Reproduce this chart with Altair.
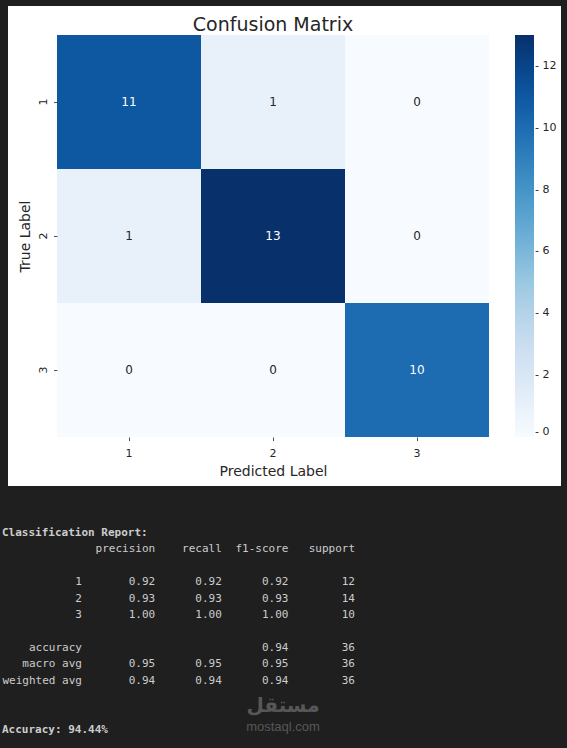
import altair as alt
import numpy as np
import pandas as pd

# ---- confusion matrix -------------------------------------------------------
class_labels = ["1", "2", "3"]
confusion = [
    [11, 1, 0],
    [1, 13, 0],
    [0, 0, 10],
]

# ---- classification report ---------------------------------------------------
report_classes = ["1", "2", "3"]
precision = [0.92, 0.93, 1.00]
recall = [0.92, 0.93, 1.00]
f1_score = [0.92, 0.93, 1.00]
support = [12, 14, 10]

accuracy_f1 = 0.94
accuracy_support = 36
macro_avg = [0.95, 0.95, 0.95, 36]
weighted_avg = [0.94, 0.94, 0.94, 36]
accuracy_pct = 94.44

colorbar_ticks = [0, 2, 4, 6, 8, 10, 12]
blues = ["#f7fbff", "#deebf7", "#c6dbef", "#9ecae1", "#6baed6",
         "#4292c6", "#2171b5", "#08519c", "#08306b"]

FONT = "DejaVu Sans"
MONO = "DejaVu Sans Mono"
INK = "#262626"
CONSOLE = "#cccccc"

W, H = 432, 402          # heatmap area
OX, OY = 57, 35          # heatmap origin on the page

cells = pd.DataFrame(
    [{"True Label": t, "Predicted Label": p, "count": confusion[i][j]}
     for i, t in enumerate(class_labels)
     for j, p in enumerate(class_labels)]
)

vmax = max(max(r) for r in confusion)
color_scale = alt.Scale(domain=list(np.linspace(0, vmax, len(blues))),
                        range=blues, interpolate="rgb")

# white figure panel behind the heatmap
panel = alt.Chart(alt.Data(values=[{}])).mark_rect(color="white").encode(
    x=alt.value(8 - OX), x2=alt.value(561 - OX),
    y=alt.value(6 - OY), y2=alt.value(486 - OY),
)

heat = alt.Chart(cells).mark_rect().encode(
    x=alt.X("Predicted Label:N", sort=class_labels,
            scale=alt.Scale(paddingInner=0, paddingOuter=0),
            axis=alt.Axis(orient="bottom", labelAngle=0, domain=False, grid=False,
                          tickSize=3.5, tickWidth=0.8, tickColor=INK,
                          labelFont=FONT, labelFontSize=11, labelColor=INK,
                          labelPadding=7,
                          title="Predicted Label", titleFont=FONT, titleFontSize=14,
                          titleFontWeight="normal", titleColor=INK,
                          titleY=38, titleBaseline="alphabetic")),
    y=alt.Y("True Label:N", sort=class_labels,
            scale=alt.Scale(paddingInner=0, paddingOuter=0),
            axis=alt.Axis(orient="left", labelAngle=270, domain=False, grid=False,
                          tickSize=3.5, tickWidth=0.8, tickColor=INK,
                          labelFont=FONT, labelFontSize=11, labelColor=INK,
                          labelAlign="center", labelBaseline="bottom", labelPadding=5,
                          title="True Label", titleFont=FONT, titleFontSize=14,
                          titleFontWeight="normal", titleColor=INK,
                          titleX=-28, titleBaseline="alphabetic")),
    color=alt.Color("count:Q", scale=color_scale,
                    legend=alt.Legend(title=None, orient="none",
                                      legendX=515 - OX, legendY=0, padding=0,
                                      direction="vertical", gradientLength=H,
                                      gradientThickness=19, gradientStrokeWidth=0,
                                      values=colorbar_ticks, labelOverlap=False,
                                      labelExpr="'- ' + datum.label",
                                      labelFont=FONT, labelFontSize=11,
                                      labelColor=INK, labelOffset=1,
                                      labelBaseline="middle")),
)

annot = alt.Chart(cells).mark_text(font=FONT, fontSize=12).encode(
    x=alt.X("Predicted Label:N", sort=class_labels,
            scale=alt.Scale(paddingInner=0, paddingOuter=0), axis=None),
    y=alt.Y("True Label:N", sort=class_labels,
            scale=alt.Scale(paddingInner=0, paddingOuter=0), axis=None),
    text="count:Q",
    color=alt.condition(alt.datum["count"] > vmax / 2,
                        alt.value("white"), alt.value(INK)),
)

title = alt.Chart(alt.Data(values=[{}])).mark_text(
    text="Confusion Matrix", font=FONT, fontSize=19, color=INK,
    align="center", baseline="alphabetic",
).encode(x=alt.value(W / 2), y=alt.value(-4))

# ---- report text, laid out on a character grid -----------------------------
# sklearn layout: 12-char row names, then four 9-char columns separated by a blank
col_end = [23, 33, 43, 53]
rows = []
for name, end in zip(["precision", "recall", "f1-score", "support"], col_end):
    rows.append({"line": 1, "pos": end, "text": name})
for k, cls in enumerate(report_classes):
    line = 3 + k
    rows.append({"line": line, "pos": 12, "text": cls})
    vals = [f"{precision[k]:.2f}", f"{recall[k]:.2f}", f"{f1_score[k]:.2f}", f"{support[k]}"]
    for v, end in zip(vals, col_end):
        rows.append({"line": line, "pos": end, "text": v})
rows.append({"line": 7, "pos": 12, "text": "accuracy"})
rows.append({"line": 7, "pos": col_end[2], "text": f"{accuracy_f1:.2f}"})
rows.append({"line": 7, "pos": col_end[3], "text": f"{accuracy_support}"})
for line, name, avg in [(8, "macro avg", macro_avg), (9, "weighted avg", weighted_avg)]:
    rows.append({"line": line, "pos": 12, "text": name})
    for v, end in zip([f"{a:.2f}" for a in avg[:3]] + [f"{avg[3]}"], col_end):
        rows.append({"line": line, "pos": end, "text": v})
table = pd.DataFrame(rows)

heads = pd.DataFrame([
    {"line": 0, "pos": 0, "text": "Classification Report:"},
    {"line": 12, "pos": 0, "text": f"Accuracy: {accuracy_pct:.2f}%"},
])

char_x = alt.Scale(domain=[0, 53], range=[2 - OX, 355 - OX])
line_y = alt.Scale(domain=[0, 12], range=[533 - OY, 729.8 - OY])

report = alt.Chart(table).mark_text(
    font=MONO, fontSize=11, color=CONSOLE, align="right", baseline="middle"
).encode(
    x=alt.X("pos:Q", scale=char_x, axis=None),
    y=alt.Y("line:Q", scale=line_y, axis=None),
    text="text:N",
)

report_heads = alt.Chart(heads).mark_text(
    font=MONO, fontSize=11, fontWeight="bold", color=CONSOLE,
    align="left", baseline="middle"
).encode(
    x=alt.X("pos:Q", scale=char_x, axis=None),
    y=alt.Y("line:Q", scale=line_y, axis=None),
    text="text:N",
)

# site watermark
mark_ar = alt.Chart(alt.Data(values=[{}])).mark_text(
    text="مستقل", font=FONT, fontSize=20, fontWeight="bold", color="#575757",
    align="center", baseline="alphabetic",
).encode(x=alt.value(283 - OX), y=alt.value(712 - OY))
mark_en = alt.Chart(alt.Data(values=[{}])).mark_text(
    text="mostaql.com", font="Liberation Sans", fontSize=13, color="#575757",
    align="center", baseline="alphabetic",
).encode(x=alt.value(283 - OX), y=alt.value(731 - OY))

chart = alt.layer(
    panel, heat, annot, title, report, report_heads, mark_ar, mark_en
).resolve_scale(
    x="independent", y="independent"
).properties(
    width=W, height=H,
    padding={"left": OX, "top": OY, "right": 567 - OX - W, "bottom": 748 - OY - H},
    autosize=alt.AutoSizeParams(type="none"),
    background="#1f1f1f",
).configure_view(stroke=None)

chart.save("out.html", embed_options={"renderer": "svg", "actions": False})
